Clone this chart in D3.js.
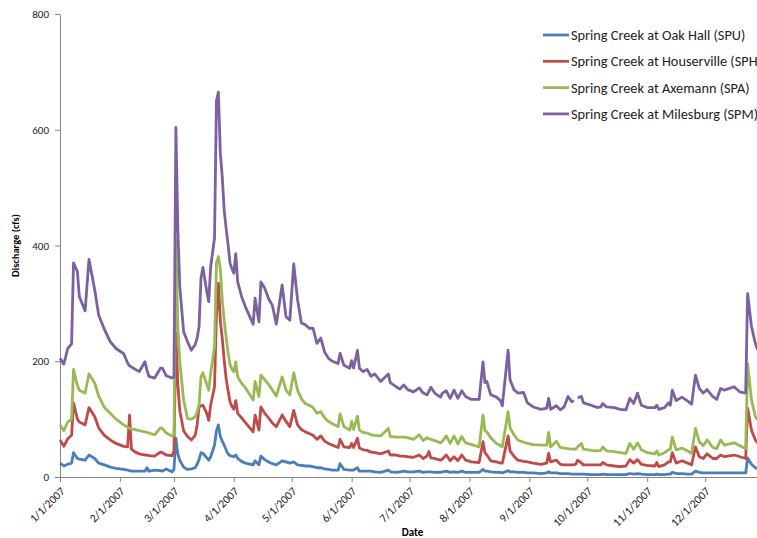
<!DOCTYPE html>
<html>
<head>
<meta charset="utf-8">
<script src="https://cdn.jsdelivr.net/npm/d3@7"></script>
<style>
  body { margin: 0; background: #fff; }
  svg text { font-family: Calibri, Carlito, Lato, "Liberation Sans", sans-serif; }
</style>
</head>
<body>
<div id="chart"></div>
<script>
// daily discharge readings (cfs), 2007
const dates = [
  "1/1", "1/3", "1/5", "1/7", "1/8", "1/10", "1/11", "1/14", "1/16", "1/19",
  "1/21", "1/24", "1/27", "1/30", "2/3", "2/5", "2/6", "2/7", "2/9", "2/11",
  "2/14", "2/15", "2/16", "2/19", "2/22", "2/23", "2/25", "2/28", "3/1", "3/2",
  "3/3", "3/4", "3/6", "3/8", "3/10", "3/12", "3/13", "3/14", "3/15", "3/16",
  "3/18", "3/19", "3/20", "3/22", "3/23", "3/24", "3/25", "3/26", "3/27", "3/28",
  "3/29", "3/30", "3/31", "4/1", "4/2", "4/3", "4/5", "4/7", "4/11", "4/12",
  "4/14", "4/15", "4/17", "4/19", "4/21", "4/23", "4/26", "4/28", "4/30", "5/2",
  "5/4", "5/6", "5/8", "5/10", "5/12", "5/14", "5/16", "5/18", "5/20", "5/22",
  "5/25", "5/26", "5/28", "5/31", "6/1", "6/2", "6/4", "6/5", "6/7", "6/9",
  "6/11", "6/13", "6/16", "6/20", "6/21", "6/24", "6/26", "6/28", "6/30", "7/3",
  "7/6", "7/8", "7/10", "7/11", "7/12", "7/14", "7/17", "7/18", "7/20", "7/22",
  "7/24", "7/26", "7/28", "7/30", "8/2", "8/6", "8/8", "8/9", "8/10", "8/12",
  "8/15", "8/17", "8/18", "8/21", "8/22", "8/24", "8/26", "8/29", "8/31", "9/3",
  "9/7", "9/10", "9/11", "9/12", "9/15", "9/17", "9/19", "9/21", "9/23", "9/24",
  "9/25", "9/26", "9/28", "9/29", "10/3", "10/6", "10/8", "10/9", "10/11", "10/15",
  "10/18", "10/21", "10/23", "10/25", "10/27", "10/29", "11/1", "11/5", "11/6", "11/7",
  "11/10", "11/12", "11/13", "11/14", "11/16", "11/19", "11/22", "11/24", "11/26", "11/28",
  "11/30", "12/2", "12/5", "12/7", "12/9", "12/11", "12/16", "12/19", "12/22", "12/23",
  "12/25", "12/27", "12/28", "12/31"
];

const spu = [
  24, 19, 22, 24, 42, 32, 31, 29, 38, 32,
  24, 21, 17, 15, 13, 12, 11, 10, 10, 10,
  10, 16, 10, 12, 11, 10, 14, 9, 13, 67,
  40, 29, 17, 13, 14, 16, 22, 30, 42, 41,
  33, 29, 35, 55, 80, 90, 70, 62, 55, 47,
  40, 37, 36, 35, 38, 32, 27, 24, 21, 28,
  21, 36, 30, 26, 23, 21, 28, 26, 24, 26,
  21, 20, 19, 19, 18, 16, 16, 14, 13, 12,
  12, 23, 13, 12, 12, 12, 16, 10, 10, 10,
  10, 9, 8, 12, 9, 8, 9, 10, 9, 9,
  10, 8, 9, 9, 9, 8, 8, 9, 10, 8,
  9, 8, 10, 8, 8, 8, 13, 10, 10, 9,
  8, 8, 7, 11, 9, 9, 8, 8, 7, 7,
  6, 7, 9, 7, 7, 6, 6, 6, 5, 5,
  5, 5, 5, 5, 4, 4, 4, 5, 4, 4,
  4, 4, 6, 5, 6, 5, 4, 4, 5, 4,
  4, 5, 5, 8, 6, 6, 5, 5, 10, 8,
  7, 7, 7, 7, 7, 7, 7, 7, 7, 33,
  22, 16, 15, 13
];

const sph = [
  64, 53, 66, 72, 128, 100, 95, 90, 120, 104,
  85, 72, 64, 58, 53, 52, 107, 48, 43, 40,
  38, 38, 37, 36, 43, 42, 38, 37, 45, 250,
  160, 115, 80, 70, 64, 72, 90, 121, 123, 124,
  110, 98, 124, 156, 280, 335, 270, 240, 202, 170,
  150, 130, 122, 117, 132, 110, 102, 94, 78, 107,
  81, 121, 110, 102, 93, 87, 107, 96, 87, 115,
  90, 82, 78, 75, 72, 65, 71, 62, 58, 55,
  51, 65, 52, 51, 58, 51, 67, 50, 47, 46,
  43, 42, 40, 45, 38, 38, 36, 36, 35, 34,
  38, 32, 36, 44, 33, 32, 29, 31, 38, 28,
  35, 28, 38, 29, 26, 25, 61, 42, 38, 28,
  26, 24, 24, 71, 45, 36, 29, 27, 26, 24,
  22, 24, 41, 26, 29, 22, 21, 21, 21, 21,
  22, 29, 24, 21, 21, 21, 21, 25, 21, 19,
  18, 19, 30, 24, 30, 22, 20, 19, 25, 18,
  21, 26, 26, 42, 24, 28, 24, 21, 52, 35,
  32, 40, 32, 32, 38, 35, 38, 35, 32, 119,
  81, 64, 60, 55
];

const spa = [
  90, 80, 95, 100, 186, 158, 150, 145, 178, 162,
  140, 120, 110, 100, 90, 86, 84, 83, 82, 80,
  78, 77, 76, 73, 85, 84, 76, 71, 72, 410,
  260, 200, 133, 101, 100, 104, 112, 125, 173, 180,
  160, 150, 179, 225, 370, 381, 360, 306, 270, 242,
  215, 195, 186, 182, 199, 173, 162, 154, 133, 165,
  139, 176, 168, 160, 150, 140, 173, 150, 142, 180,
  150, 135, 127, 124, 120, 110, 113, 102, 96, 92,
  87, 109, 87, 81, 96, 82, 105, 81, 77, 76,
  73, 72, 71, 84, 70, 69, 69, 69, 68, 65,
  73, 63, 68, 66, 65, 63, 59, 62, 71, 58,
  71, 57, 70, 59, 56, 52, 107, 80, 78, 68,
  58, 54, 52, 113, 85, 73, 64, 60, 58, 56,
  55, 55, 77, 52, 62, 51, 50, 49, 48, 48,
  48, 52, 58, 48, 46, 45, 46, 52, 45, 44,
  42, 41, 58, 48, 59, 47, 42, 40, 45, 38,
  42, 47, 48, 69, 47, 50, 45, 41, 84, 61,
  54, 64, 51, 49, 64, 55, 59, 54, 49, 196,
  133, 104, 100, 90
];

const spm = [
  205, 195, 222, 230, 370, 355, 312, 287, 376, 323,
  280, 255, 234, 222, 213, 197, 192, 190, 186, 182,
  199, 185, 174, 171, 188, 188, 175, 171, 173, 604,
  430, 330, 251, 234, 219, 229, 240, 260, 344, 362,
  320, 303, 363, 413, 650, 665, 560, 519, 461, 430,
  402, 370, 360, 352, 386, 337, 312, 294, 264, 309,
  268, 337, 326, 308, 296, 264, 332, 277, 271, 368,
  306, 266, 263, 257, 257, 231, 240, 216, 205, 200,
  196, 214, 193, 188, 201, 188, 219, 188, 182, 186,
  174, 178, 165, 178, 163, 156, 152, 159, 151, 147,
  154, 145, 142, 148, 155, 145, 138, 145, 149, 136,
  150, 136, 149, 139, 134, 134, 199, 163, 165, 142,
  138, 132, 123, 219, 168, 151, 145, 146, 128, 121,
  117, 119, 136, 117, 123, 116, 121, 139, 130, 132,
  null, 137, 139, 128, 124, 120, 121, 127, 121, 120,
  117, 116, 136, 127, 145, 124, 120, 120, 124, 117,
  120, 128, 124, 150, 132, 138, 131, 126, 176, 153,
  145, 151, 139, 134, 153, 150, 156, 147, 145, 317,
  260, 231, 222, 200
];

const seriesNames = [
  "Spring Creek at Oak Hall (SPU)",
  "Spring Creek at Houserville (SPH)",
  "Spring Creek at Axemann (SPA)",
  "Spring Creek at Milesburg (SPM)"
];
const yTicks = [0, 200, 400, 600, 800];
const xTickLabels = ["1/1/2007", "2/1/2007", "3/1/2007", "4/1/2007", "5/1/2007", "6/1/2007",
  "7/1/2007", "8/1/2007", "9/1/2007", "10/1/2007", "11/1/2007", "12/1/2007"];

const colors = ["#4a7ebb", "#be4b48", "#98b954", "#7d60a0"];

const width = 757, height = 538;
const margin = {left: 60, top: 14, bottom: 61};

const parseDay = d3.timeParse("%m/%d/%Y");
const series = [spu, sph, spa, spm].map((vals, i) => ({
  name: seriesNames[i],
  color: colors[i],
  values: dates.map((d, j) => ({date: parseDay(d + "/2007"), value: vals[j]}))
}));

const svg = d3.select("#chart")
  .append("svg")
  .attr("width", width)
  .attr("height", height);

const x = d3.scaleTime()
  .domain([parseDay("1/1/2007"), parseDay("1/1/2008")])
  .range([margin.left, 765]);

const y = d3.scaleLinear()
  .domain([0, 800])
  .range([height - margin.bottom, margin.top]);

// y axis
const yAxis = svg.append("g")
  .attr("transform", `translate(${margin.left},0)`)
  .call(d3.axisLeft(y).tickValues(yTicks).tickSize(5).tickPadding(6).tickSizeOuter(0));

yAxis.selectAll("text")
  .attr("font-size", 11)
  .attr("fill", "#222");

// x axis
const xAxis = svg.append("g")
  .attr("transform", `translate(0,${y(0)})`)
  .call(d3.axisBottom(x)
    .tickValues(xTickLabels.map(parseDay))
    .tickFormat((d, i) => xTickLabels[i])
    .tickSize(5)
    .tickSizeOuter(0));

xAxis.selectAll("text")
  .attr("font-size", 11.5)
  .attr("fill", "#222")
  .attr("x", 0).attr("y", 0).attr("dy", 0)
  .attr("text-anchor", "end")
  .attr("transform", "translate(5,15) rotate(-45)");

svg.selectAll(".domain, .tick line")
  .attr("stroke", "#868686");

// axis titles
svg.append("text")
  .attr("transform", `translate(19,${(y(0) + y(800)) / 2}) rotate(-90)`)
  .attr("text-anchor", "middle")
  .attr("font-size", 10.5)
  .attr("font-weight", "bold")
  .text("Discharge (cfs)");

svg.append("text")
  .attr("x", (x.range()[0] + x.range()[1]) / 2)
  .attr("y", 536)
  .attr("text-anchor", "middle")
  .attr("font-size", 11)
  .attr("font-weight", "bold")
  .text("Date");

// lines
const line = d3.line()
  .defined(d => d.value !== null)
  .x(d => x(d.date))
  .y(d => y(d.value));

svg.append("g")
  .selectAll("path")
  .data(series)
  .join("path")
  .attr("d", d => line(d.values))
  .attr("fill", "none")
  .attr("stroke", d => d.color)
  .attr("stroke-width", 2.8)
  .attr("stroke-linejoin", "round");

// legend
const legend = svg.append("g")
  .attr("transform", "translate(543,35)");

const item = legend.selectAll("g")
  .data(series)
  .join("g")
  .attr("transform", (d, i) => `translate(0,${i * 26.3})`);

item.append("line")
  .attr("x1", 0).attr("x2", 26)
  .attr("stroke", d => d.color)
  .attr("stroke-width", 2.8);

item.append("text")
  .attr("x", 28)
  .attr("dy", "0.35em")
  .attr("font-size", 14.3)
  .attr("fill", "#222")
  .text(d => d.name);
</script>
</body>
</html>
